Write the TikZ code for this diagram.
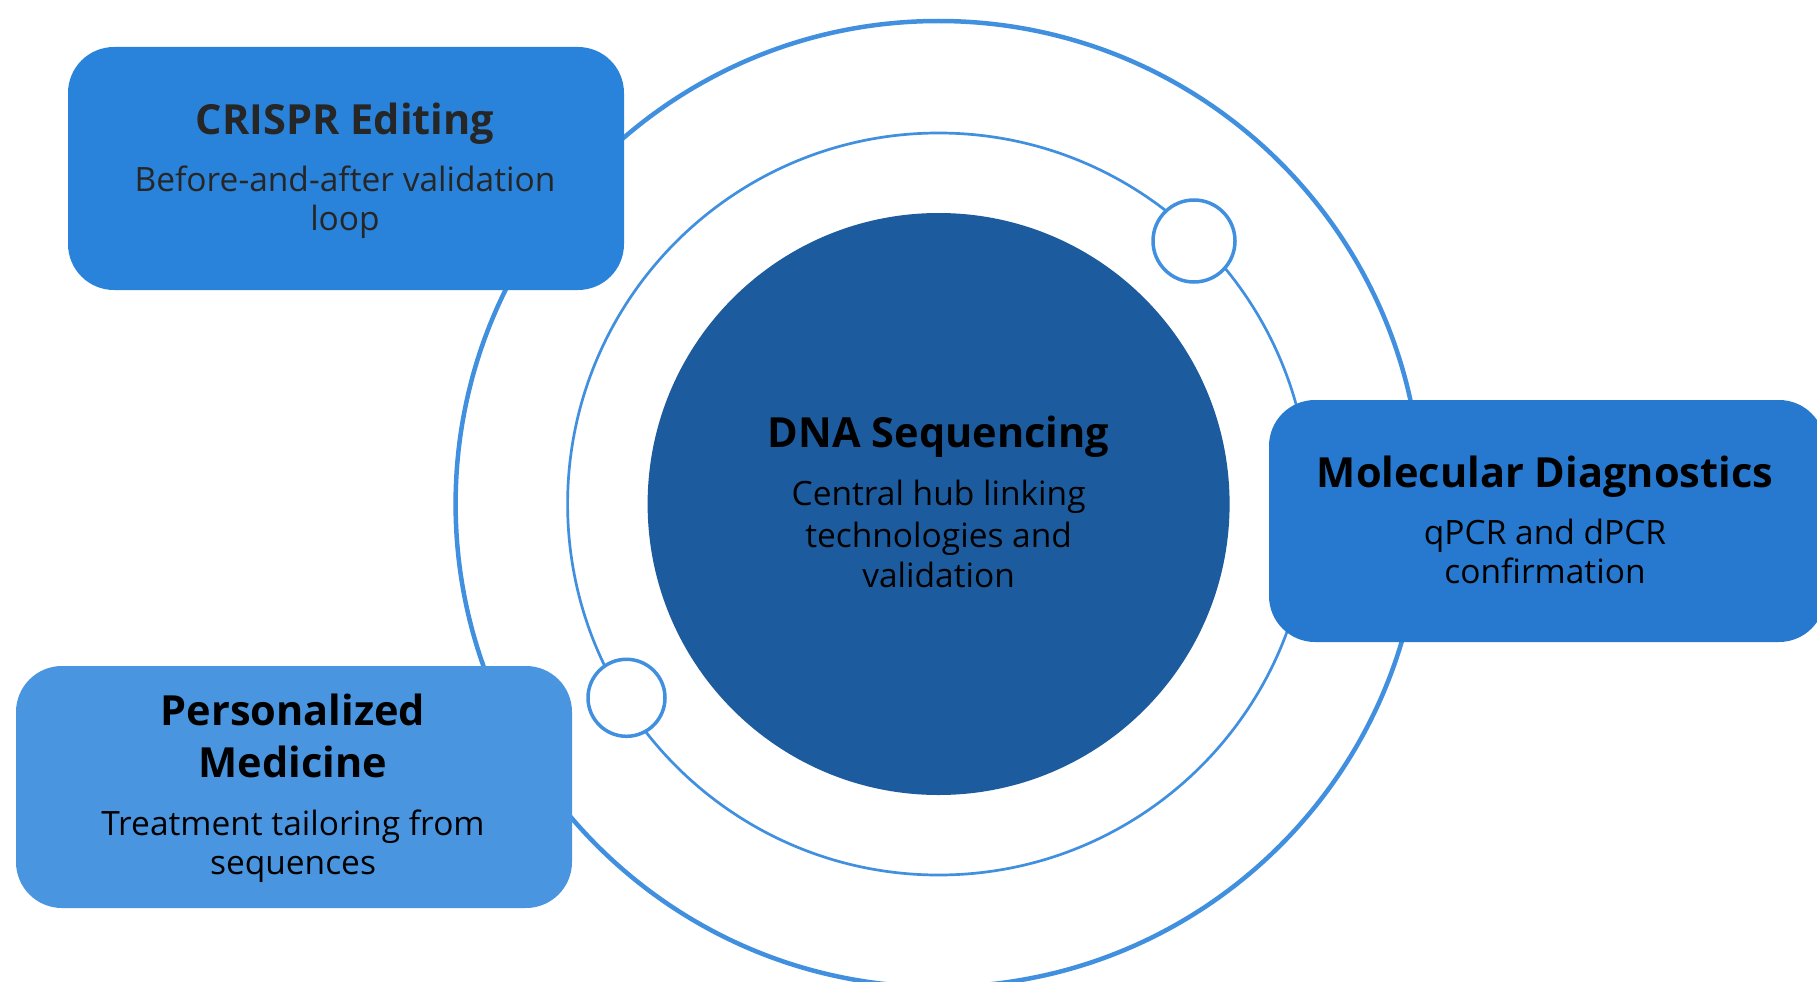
\documentclass[tikz,border=0pt]{standalone}
\usepackage{fontspec}
\setmainfont{Open Sans}
\definecolor{ringblue}{HTML}{4190E0}
\definecolor{boxA}{HTML}{2A83DA}
\definecolor{boxB}{HTML}{2679CE}
\definecolor{boxC}{HTML}{4A95E0}
\definecolor{hub}{HTML}{1C5C9E}
\definecolor{darktext}{HTML}{262626}
\tikzset{
  card/.style={draw=none, rounded corners=46pt},
  ttl/.style={anchor=base, inner sep=0pt, font=\bfseries\fontsize{41.5}{50}\selectfont},
  bdy/.style={anchor=base, inner sep=0pt, font=\fontsize{33.5}{40}\selectfont},
  dot/.style={draw=ringblue, line width=3.5pt, fill=white, circle, inner sep=0pt},
}
\begin{document}
\begin{tikzpicture}[x=1pt,y=-1pt]
\useasboundingbox (0,0) rectangle (1817,982);
\clip (0,0) rectangle (1817,982);
\fill[white] (0,0) rectangle (1817,982);
\coordinate (c) at (938.6,504);
% rings
\draw[ringblue, line width=4.5pt] (c) circle[radius=483];
\draw[ringblue, line width=2.7pt] (c) circle[radius=371];
% hub
\fill[hub] (c) circle[radius=291];
% small circles on the middle ring
\node[dot, minimum size=82pt] (d1) at (1194,241) {};
\node[dot, minimum size=77pt] (d2) at (626.5,697.8) {};
% cards
\fill[boxA, card] (68,47) rectangle (624,290);
\fill[boxB, card] (1269,400) rectangle (1825,642);
\fill[boxC, card] (16,666) rectangle (572,908);
% texts
\node[ttl, text=darktext] (t1) at (345,134) {CRISPR Editing};
\node[bdy, text=darktext] (b1a) at (345,191) {Before-and-after validation};
\node[bdy, text=darktext] (b1b) at (345,230) {loop};
\node[ttl] (t2) at (1545,487) {Molecular Diagnostics};
\node[bdy] (b2a) at (1545,544) {qPCR and dPCR};
\node[bdy] (b2b) at (1545,583) {confirmation};
\node[ttl] (t3a) at (293,725) {Personalized};
\node[ttl] (t3b) at (293,777) {Medicine};
\node[bdy] (b3a) at (293,835) {Treatment tailoring from};
\node[bdy] (b3b) at (293,874) {sequences};
\node[ttl] (t4) at (938.6,447) {DNA Sequencing};
\node[bdy] (b4a) at (938.6,505) {Central hub linking};
\node[bdy] (b4b) at (938.6,547) {technologies and};
\node[bdy] (b4c) at (938.6,587) {validation};
\end{tikzpicture}
\end{document}
